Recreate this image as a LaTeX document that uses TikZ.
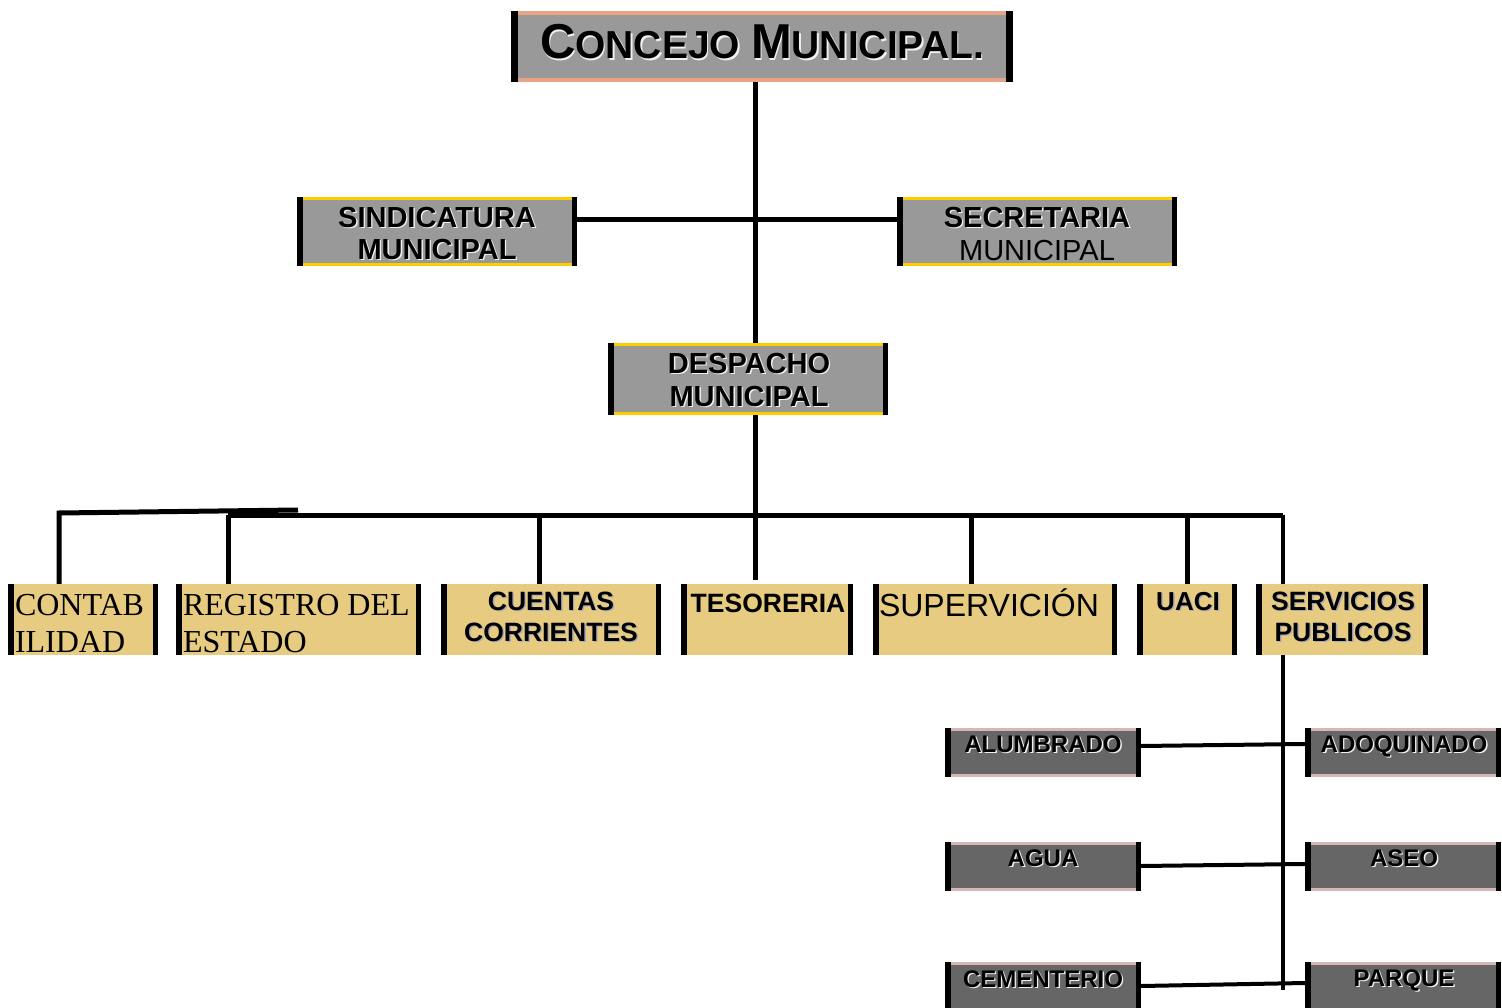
\documentclass[tikz,border=0pt]{standalone}
\usepackage{fontspec}
\setmainfont{Liberation Sans}
\newfontfamily\seriff{Liberation Serif}
\definecolor{gfill}{HTML}{999999}
\definecolor{tfill}{HTML}{E6CB80}
\definecolor{dfill}{HTML}{666666}
\definecolor{salm}{HTML}{E8A585}
\definecolor{yel}{HTML}{FFCC00}
\definecolor{pnk}{HTML}{D8B6B6}
\definecolor{shw}{HTML}{F0F0F0}
\definecolor{shb}{HTML}{A8A8C0}
\newcommand\shd[2][shw]{\leavevmode\rlap{\kern1.4pt\raisebox{-1.4pt}{\textcolor{#1}{#2}}}#2}
\newcommand\fs[1]{\fontsize{#1}{#1}\selectfont}
\tikzset{
  obox/.style n args={4}{fill=#1, draw=none, inner sep=0pt, outer sep=0pt,
    path picture={
      \fill[#2] (path picture bounding box.north west) rectangle ([yshift=-#4]path picture bounding box.north east);
      \fill[#2] (path picture bounding box.south west) rectangle ([yshift=#4]path picture bounding box.south east);
      \fill[black] (path picture bounding box.south west) rectangle ([xshift=#3]path picture bounding box.north west);
      \fill[black] (path picture bounding box.south east) rectangle ([xshift=-#3]path picture bounding box.north east);
    }},
  graybox/.style={obox={gfill}{yel}{5.5pt}{3pt}},
  tanbox/.style={obox={tfill}{tfill}{5.5pt}{3pt}},
  darkbox/.style={obox={dfill}{pnk}{5.5pt}{3pt}},
  ln/.style={line width=5pt},
  lnt/.style={line width=4pt},
  txt/.style={inner sep=0pt, outer sep=0pt, anchor=base},
  txtl/.style={inner sep=0pt, outer sep=0pt, anchor=base west},
}
\newcommand\bx[6]{\node[#6, minimum width={(#4-#2)*1pt}, minimum height={(#5-#3)*1pt}] (#1) at ({(#2+#4)/2},{(#3+#5)/2}) {};}
\begin{document}
\begin{tikzpicture}[x=1pt,y=-1pt]
\useasboundingbox[fill=white] (0,0) rectangle (1502,1008);
% coordinates for connectors
\coordinate (hy) at (755,220);
\coordinate (busL) at (228,515);
\coordinate (busR) at (1283,515);
\coordinate (cL) at (59,513);
\coordinate (cR) at (298,510);
\coordinate (dCu) at (539,515);
\coordinate (dSu) at (971,515);
\coordinate (dUa) at (1187,515);
\coordinate (sEnd) at (1283,990);
% upper boxes
\bx{concejo}{511}{11}{1013}{82}{obox={gfill}{salm}{7pt}{4pt}}
\bx{sindic}{297}{197}{577}{266}{graybox}
\bx{secret}{897}{197}{1177}{266}{graybox}
\bx{despacho}{608}{343}{888}{415}{graybox}
% connectors
\draw[ln] (concejo.south -| hy) -- (despacho.north -| hy);
\draw[ln] (sindic.east |- hy) -- (secret.west |- hy);
\draw[ln] (despacho.south -| hy) -- ([yshift=4pt]hy |- 0,584);
\draw[ln] (busL) -- (busR);
\draw[ln] (cL |- 0,584) -- (cL) -- (cR);
\draw[ln] (busL) -- (busL |- 0,584);
\draw[ln] (dCu) -- (dCu |- 0,584);
\draw[ln] (dSu) -- (dSu |- 0,584);
\draw[ln] (dUa) -- (dUa |- 0,584);
\draw[lnt] (busR) -- (sEnd);
% bottom row
\bx{contab}{8}{584}{158}{655}{tanbox}
\bx{registro}{176}{584}{421}{655}{tanbox}
\bx{cuentas}{441}{584}{661}{655}{tanbox}
\bx{tesoreria}{681}{584}{853}{655}{tanbox}
\bx{superv}{873}{584}{1117}{655}{tanbox}
\bx{uaci}{1137}{584}{1237}{655}{tanbox}
\bx{servicios}{1256}{584}{1428}{655}{tanbox}
\draw[lnt] (servicios.south -| sEnd) -- (sEnd);
% lower boxes
\bx{alumbrado}{945}{728}{1141}{777}{darkbox}
\bx{adoquinado}{1305}{728}{1501}{777}{darkbox}
\bx{agua}{945}{842}{1141}{891}{darkbox}
\bx{aseo}{1305}{842}{1501}{891}{darkbox}
\bx{cementerio}{945}{962}{1141}{1011}{darkbox}
\bx{parque}{1305}{962}{1501}{1011}{darkbox}
\draw[lnt] ([yshift=6.5pt]alumbrado.east) -- ([yshift=8.5pt]adoquinado.west);
\draw[lnt] ([yshift=0.5pt]agua.east) -- ([yshift=2.5pt]aseo.west);
\draw[lnt] ([yshift=0.5pt]cementerio.east) -- ([yshift=3.5pt]parque.west);
% texts
\node[txt] (tcon) at (762,59) {\bfseries\shd{\fs{49}C\fs{39}ONCEJO \fs{49}M\fs{39}UNICIPAL.}};
\node[txt] (tsin1) at (437,227.5) {\fs{29}\bfseries\shd{SINDICATURA}};
\node[txt] (tsin2) at (437,259.5) {\fs{29}\bfseries\shd{MUNICIPAL}};
\node[txt] (tsec1) at (1037,227.5) {\fs{29}\bfseries\shd{SECRETARIA}};
\node[txt] (tsec2) at (1037,260.5) {\fs{29}MUNICIPAL};
\node[txt] (tdes1) at (749,373.5) {\fs{29}\bfseries\shd{DESPACHO}};
\node[txt] (tdes2) at (749,406.5) {\fs{29}\bfseries\shd{MUNICIPAL}};
\node[txtl] (tcot1) at (15,615) {\seriff\fs{32}CONTAB};
\node[txtl] (tcot2) at (15,652) {\seriff\fs{32}ILIDAD};
\node[txtl] (treg1) at (183,615) {\seriff\fs{32}REGISTRO DEL};
\node[txtl] (treg2) at (183,652) {\seriff\fs{32}ESTADO};
\node[txt] (tcue1) at (551,610) {\fs{26.5}\bfseries\shd[shb]{CUENTAS}};
\node[txt] (tcue2) at (551,641) {\fs{26.5}\bfseries\shd[shb]{CORRIENTES}};
\node[txt] (ttes) at (768,612) {\fs{26.5}\bfseries TESORERIA};
\node[txtl] (tsup) at (879,616) {\fs{32}SUPERVICIÓN};
\node[txt] (tuac) at (1188,610) {\fs{26}\bfseries\shd[shb]{UACI}};
\node[txt] (tser1) at (1343,610) {\fs{26.5}\bfseries\shd[shb]{SERVICIOS}};
\node[txt] (tser2) at (1343,641) {\fs{26.5}\bfseries\shd[shb]{PUBLICOS}};
\node[txt] (talu) at (1043,752) {\fs{24}\bfseries\shd[shw]{ALUMBRADO}};
\node[txt] (tado) at (1404,752) {\fs{24}\bfseries\shd[shw]{ADOQUINADO}};
\node[txt] (tagu) at (1043,866) {\fs{24}\bfseries\shd[shw]{AGUA}};
\node[txt] (tase) at (1404,866) {\fs{24}\bfseries\shd[shw]{ASEO}};
\node[txt] (tcem) at (1043,987) {\fs{24}\bfseries\shd[shw]{CEMENTERIO}};
\node[txt] (tpar) at (1404,986) {\fs{24}\bfseries\shd[shw]{PARQUE}};
\end{tikzpicture}
\end{document}
